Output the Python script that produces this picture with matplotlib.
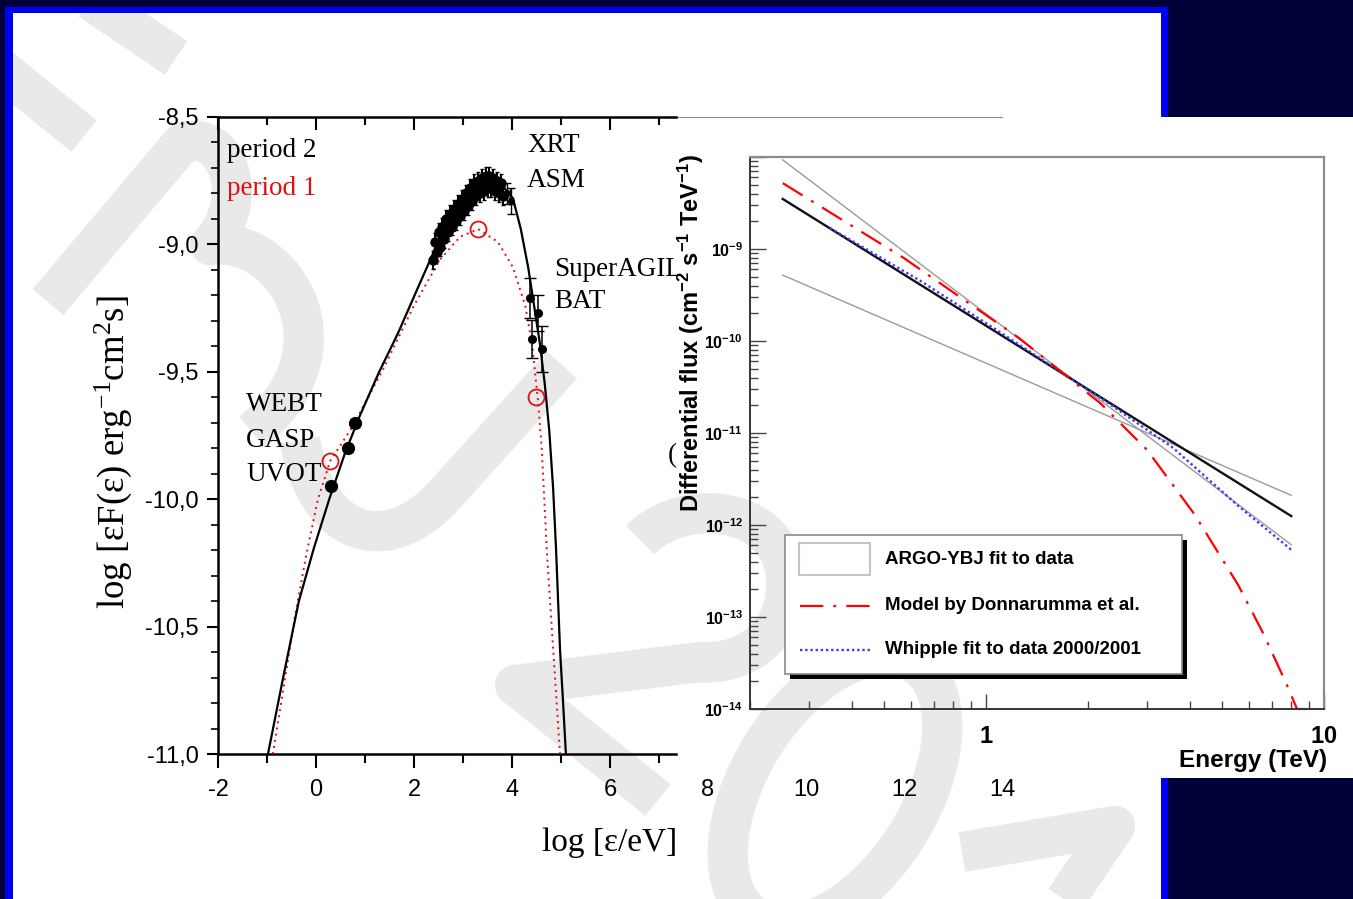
import numpy as np
import matplotlib
matplotlib.use("Agg")
import matplotlib.pyplot as plt
from matplotlib.patches import Rectangle, PathPatch, Ellipse
from matplotlib.path import Path
from matplotlib.ticker import (FixedLocator, MultipleLocator, FuncFormatter,
                               LogLocator, NullFormatter)
from matplotlib.transforms import Bbox, TransformedBbox

plt.rcParams['font.family'] = 'Liberation Sans'
plt.rcParams['mathtext.fontset'] = 'custom'
plt.rcParams['mathtext.bf'] = 'Liberation Sans:bold'
plt.rcParams['mathtext.rm'] = 'Liberation Serif'
plt.rcParams['mathtext.default'] = 'regular'

W, H = 1353, 899

# ---------------- SED: log eps [eV] vs log eps F(eps) ----------------
p2_model_x = [-0.98, -0.67, -0.35, -0.04, 0.27, 0.59, 0.90, 1.29, 1.67, 2.08,
              2.47, 2.84, 3.14, 3.47, 3.76, 4.02, 4.18, 4.33, 4.45, 4.57,
              4.67, 4.76, 4.84, 4.90, 4.98, 5.04, 5.10]
p2_model_y = [-11.00, -10.70, -10.40, -10.19, -10.00, -9.82, -9.67, -9.50, -9.35, -9.17,
              -9.00, -8.88, -8.81, -8.76, -8.76, -8.82, -8.94, -9.09, -9.24, -9.39,
              -9.55, -9.73, -9.96, -10.20, -10.59, -10.79, -11.00]

p1_model_x = [-0.88, -0.67, -0.43, -0.20, 0.04, 0.29, 0.73, 1.37, 2.00, 2.53,
              2.94, 3.31, 3.71, 4.02, 4.27, 4.41, 4.49, 4.53, 4.61, 4.71, 4.84, 4.98]
p1_model_y = [-11.00, -10.75, -10.46, -10.22, -10.00, -9.85, -9.72, -9.49, -9.24, -9.06,
              -8.97, -8.94, -8.99, -9.09, -9.24, -9.39, -9.54, -9.61, -9.81, -10.20, -10.59, -11.00]

p1_pts_x = [0.29, 3.31, 4.49]
p1_pts_y = [-9.85, -8.94, -9.60]

optical_x = [0.31, 0.65, 0.80]
optical_y = [-9.95, -9.80, -9.70]

xrt_x = [2.38, 2.42, 2.46, 2.50, 2.54, 2.58, 2.62, 2.66, 2.70, 2.74, 2.78, 2.82, 2.86,
         2.90, 2.94, 2.98, 3.02, 3.06, 3.10, 3.14, 3.18, 3.22, 3.26, 3.30, 3.34, 3.38,
         3.42, 3.46, 3.50, 3.54, 3.58, 3.62, 3.66, 3.70, 3.74, 3.78, 3.82]
xrt_y = [-9.06, -8.99, -9.03, -8.95, -9.01, -8.93, -8.98, -8.90, -8.95, -8.88, -8.93, -8.86, -8.91,
         -8.84, -8.89, -8.82, -8.87, -8.80, -8.85, -8.78, -8.83, -8.76, -8.81, -8.75, -8.80, -8.74,
         -8.79, -8.73, -8.78, -8.73, -8.78, -8.74, -8.79, -8.75, -8.80, -8.76, -8.81]
xrt_err = 0.035

asm_x = [3.90, 3.98]
asm_y = [-8.80, -8.83]
asm_err = [0.04, 0.05]

hard_x = [4.37, 4.53, 4.41, 4.61]
hard_y = [-9.21, -9.27, -9.37, -9.41]
hard_err = [0.08, 0.07, 0.075, 0.09]

sed_labels_black = [('period 2', -1.82, -8.63), ('XRT', 4.31, -8.61), ('ASM', 4.31, -8.75),
                    ('BAT', 4.86, -9.226), ('WEBT', -1.43, -9.63), ('GASP', -1.43, -9.77),
                    ('UVOT', -1.43, -9.905), ('(', 7.18, -9.83)]

# ---------------- TeV spectra: energy [TeV] vs differential flux ----------------
argo_e = [0.25, 8.0]
argo_f = [3.5e-9, 1.25e-12]
band_steep_f = [9.3e-9, 6.1e-13]
band_flat_f = [5.2e-10, 2.1e-12]

model_e = [0.25, 0.57, 1.25, 2.18, 3.0, 4.15, 5.57, 6.6, 7.77, 8.32, 9.15]
model_f = [5.2e-9, 8.0e-10, 1.08e-10, 2.1e-11, 6.5e-12, 1.285e-12, 2.23e-13, 6.7e-14,
           1.82e-14, 1.0e-14, 1.0e-14]

whipple_e = [0.345, 0.638, 1.10, 2.175, 3.575, 5.567, 7.99]
whipple_f = [1.69e-9, 4.52e-10, 1.245e-10, 2.43e-11, 6.9e-12, 1.62e-12, 5.4e-13]

legend_labels = ['ARGO-YBJ fit to data', 'Model by Donnarumma et al.',
                 'Whipple fit to data 2000/2001']

RED = '#ff0000'
SEDRED = '#e01010'
BLUE = '#3a3aff'
GRAY = '#9a9a9a'
WM = '#e9e9e9'
MODEL_LS = (0, (10.5, 4.5, 1.3, 4.5))
WHIPPLE_LS = (0, (1.0, 1.2))

fig = plt.figure(figsize=(W / 100, H / 100), dpi=100, facecolor='#000038')

# ---- slide background and watermark (pixel coordinates) ----
bg = fig.add_axes([0, 0, 1, 1], zorder=0)
bg.set_xlim(0, W)
bg.set_ylim(H, 0)
bg.axis('off')
bg.add_patch(Rectangle((5, 7), 1163, H, fc='#0000f0', ec='none'))
slide = Rectangle((13, 13), 1148, H, fc='white', ec='none')
bg.add_patch(slide)
bg.add_patch(Rectangle((678, 117), W - 678, 661, fc='white', ec='none'))

M, L, C4 = Path.MOVETO, Path.LINETO, Path.CURVE4
strokes = [
    ([(90, 0), (176, 58)], [M, L]),
    ([(0, 68), (84, 136)], [M, L]),
    ([(48, 302), (183, 142), (228, 130), (252, 200), (210, 245),
      (285, 235), (355, 350), (252, 432)], [M, L, C4, C4, C4, C4, C4, C4]),
    ([(300, 440), (315, 530), (380, 560), (440, 500), (562, 365)], [M, C4, C4, C4, L]),
    ([(640, 540), (690, 490), (800, 510), (785, 600), (775, 650), (730, 665),
      (700, 662), (515, 685), (658, 800)], [M, C4, C4, C4, C4, C4, C4, L, L]),
    ([(962, 852), (1115, 826), (1055, 915)], [M, L, L]),
]
for verts, codes in strokes:
    pp = PathPatch(Path(verts, codes), fill=False, ec=WM, lw=29,
                   capstyle='butt', joinstyle='round')
    bg.add_patch(pp)
    pp.set_clip_path(slide)
oval = Ellipse((835, 790), 300, 170, angle=-58, fill=False, ec=WM, lw=29)
bg.add_patch(oval)
oval.set_clip_path(slide)

# ---- left panel: SED ----
ax = fig.add_axes([218 / W, 1 - 754 / H, 784 / W, 637 / H], zorder=2)
ax.set_facecolor('none')
ax.set_xlim(-2, 14)
ax.set_ylim(-11, -8.5)
ax.spines['right'].set_visible(False)
for s in ['left', 'bottom', 'top']:
    ax.spines[s].set_linewidth(1.8)
ax.spines['bottom'].set_bounds(-2, 7.35)
ax.spines['top'].set_bounds(-2, 7.35)
ax.plot([7.35, 14], [-8.5, -8.5], color='#8a8a8a', lw=0.8, clip_on=False)

ax.set_xticks([-2, 0, 2, 4, 6])
ax.xaxis.set_minor_locator(FixedLocator([-1, 1, 3, 5, 7]))
ax.xaxis.set_major_formatter(FuncFormatter(lambda v, p: f'{v:g}'))
ax.tick_params(axis='x', which='major', direction='out', length=10, width=1.5,
               pad=8, labelsize=17, top=False)
ax.tick_params(axis='x', which='minor', direction='out', length=6.5, width=1.5, top=False)
ax.yaxis.set_major_locator(MultipleLocator(0.5))
ax.yaxis.set_minor_locator(MultipleLocator(0.1))
ax.yaxis.set_major_formatter(FuncFormatter(lambda v, p: f'{v:.1f}'.replace('.', ',')))
ax.tick_params(axis='y', which='major', direction='out', length=8, width=1.5,
               pad=5.8, labelsize=17, right=False)
ax.tick_params(axis='y', which='minor', direction='out', length=5, width=1.2, right=False)

# labels of the hidden part of the energy axis
bx = ax.secondary_xaxis('bottom')
bx.set_xticks([8, 10, 12, 14])
bx.xaxis.set_major_formatter(FuncFormatter(lambda v, p: f'{v:g}'))
bx.tick_params(axis='x', length=0, pad=18, labelsize=17)
for s in bx.spines.values():
    s.set_visible(False)

tx = ax.secondary_xaxis('top')
tx.set_xticks([-2, 0, 2, 4, 6])
tx.xaxis.set_minor_locator(FixedLocator([-1, 1, 3, 5, 7]))
tx.tick_params(axis='x', which='major', direction='in', length=9.4, width=1.5, labeltop=False)
tx.tick_params(axis='x', which='minor', direction='in', length=5.8, width=1.5, labeltop=False)
for s in tx.spines.values():
    s.set_visible(False)

ax.plot(p1_model_x, p1_model_y, color=SEDRED, lw=1.4, ls=(0, (1, 2.2)), zorder=3)
ax.plot(p2_model_x, p2_model_y, color='k', lw=1.6, zorder=4)
ax.errorbar(xrt_x, xrt_y, yerr=xrt_err, fmt='o', ms=6.5, color='k', elinewidth=1.4,
            capsize=1.2, zorder=5)
ax.errorbar(asm_x, asm_y, yerr=asm_err, xerr=0.05, fmt='o', ms=4, color='k',
            elinewidth=1.0, capsize=3, zorder=5)
ax.errorbar(hard_x, hard_y, yerr=hard_err, fmt='o', ms=5.5, color='k', elinewidth=1.1,
            capsize=4, zorder=5)
ax.plot(optical_x, optical_y, 'o', ms=8.5, color='k', zorder=5)
ax.plot(p1_pts_x, p1_pts_y, 'o', ms=11.5, mfc='none', mec=SEDRED, mew=1.3, zorder=6)

serif = dict(fontfamily='Liberation Serif', fontsize=19.5, va='center', ha='left')
for txt, x, y in sed_labels_black:
    ax.text(x, y, txt, color='k', **serif)
ax.text(-1.82, -8.78, 'period 1', color=SEDRED, **serif)
sa = ax.text(4.86, -9.10, 'SuperAGILE', color='k', clip_on=True, **serif)
sa.set_clip_box(TransformedBbox(Bbox([[0, 0], [678 / W, 1]]), fig.transFigure))

# ---- right panel: TeV spectra ----
rx = fig.add_axes([750 / W, 1 - 709 / H, 574 / W, 552 / H], zorder=3)
rx.set_facecolor('none')
rx.set_xscale('log')
rx.set_yscale('log')
rx.set_xlim(0.2, 10)
rx.set_ylim(1e-14, 1e-8)

rx.plot(argo_e, band_steep_f, color=GRAY, lw=1.0)
rx.plot(argo_e, band_flat_f, color=GRAY, lw=1.0)
rx.plot(argo_e, argo_f, color='#111111', lw=1.7)
rx.plot(whipple_e, whipple_f, color=BLUE, lw=1.7, ls=WHIPPLE_LS)
rx.plot(model_e, model_f, color=RED, lw=1.6, ls=MODEL_LS, clip_on=False)

rx.yaxis.set_major_locator(LogLocator(base=10, numticks=20))
rx.yaxis.set_minor_locator(LogLocator(base=10, subs=range(2, 10), numticks=20))
rx.yaxis.set_minor_formatter(NullFormatter())
rx.yaxis.set_major_formatter(FuncFormatter(
    lambda v, p: '' if v > 5e-9 else r'$\mathbf{10^{%d}}$' % round(np.log10(v))))
rx.xaxis.set_major_locator(FixedLocator([1, 10]))
rx.xaxis.set_minor_locator(LogLocator(base=10, subs=range(2, 10), numticks=20))
rx.xaxis.set_minor_formatter(NullFormatter())
rx.xaxis.set_major_formatter(FuncFormatter(lambda v, p: r'$\mathbf{%g}$' % v))
rx.tick_params(axis='both', which='both', direction='in', color='#454545',
               top=False, right=False)
rx.tick_params(axis='y', which='major', length=11.5, width=1.0, labelsize=11.5, pad=5)
rx.tick_params(axis='y', which='minor', length=5.8, width=1.0)
rx.tick_params(axis='x', which='major', length=11, width=1.0, labelsize=17, pad=12)
rx.tick_params(axis='x', which='minor', length=6, width=1.0)
for s in ['left', 'bottom']:
    rx.spines[s].set_color('#353535')
    rx.spines[s].set_linewidth(1.4)
for s in ['top', 'right']:
    rx.spines[s].set_color('#8c8c8c')
    rx.spines[s].set_linewidth(1.6)

# ---- overlay: axis titles and legend box (pixel coordinates) ----
ov = fig.add_axes([0, 0, 1, 1], zorder=10)
ov.set_facecolor('none')
ov.set_xlim(0, W)
ov.set_ylim(H, 0)
ov.axis('off')

ov.text(113, 452, r'log [εF(ε) erg$^{-1}$cm$^{2}$s]', rotation=90, ha='center', va='center',
        fontfamily='Liberation Serif', fontsize=26.5)
ov.text(610, 843, 'log [ε/eV]', ha='center', va='center',
        fontfamily='Liberation Serif', fontsize=24)
ov.text(691, 333, r'Differential flux (cm$^{-2}$ s$^{-1}$ TeV$^{-1}$)', rotation=90,
        ha='center', va='center', fontweight='bold', fontsize=17)
ov.text(1327, 760, 'Energy (TeV)', ha='right', va='center', fontweight='bold', fontsize=17.5)

ov.add_patch(Rectangle((790, 540), 397, 139, fc='black', ec='none'))
ov.add_patch(Rectangle((785, 535), 397, 139, fc='white', ec='#8a8a8a', lw=1.2))
ov.add_patch(Rectangle((799, 543), 71, 32, fc='white', ec='#c4c4c4', lw=1.5))
ov.plot([800, 870], [606, 606], color=RED, lw=1.6, ls=MODEL_LS)
ov.plot([800, 870], [650, 650], color=BLUE, lw=1.7, ls=WHIPPLE_LS)
for txt, y in zip(legend_labels, [559, 606, 650]):
    ov.text(885, y, txt, ha='left', va='center', fontweight='bold', fontsize=13.5)

fig.savefig('out.png', dpi=100, facecolor=fig.get_facecolor())
